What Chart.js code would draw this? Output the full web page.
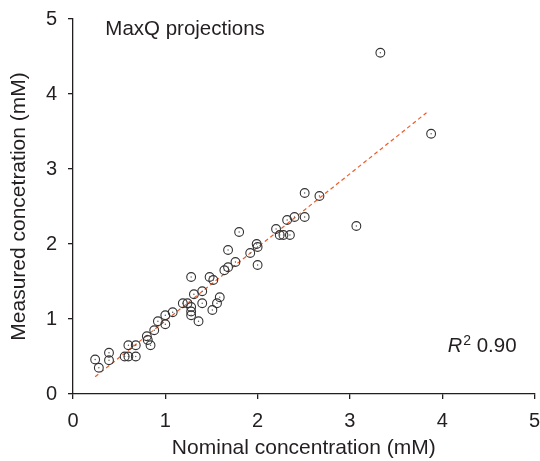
<!DOCTYPE html>
<html>
<head>
<meta charset="utf-8">
<script src="https://cdn.jsdelivr.net/npm/chart.js@4/dist/chart.umd.min.js"></script>
<style>
  html, body { margin: 0; padding: 0; background: #ffffff; }
  #wrap { width: 540px; height: 461px; }
</style>
</head>
<body>
<div id="wrap"><canvas id="c" width="540" height="461"></canvas></div>
<script>
// Nominal (x) and measured (y) concentrations, mM
const nominal = [0.24, 0.28, 0.39, 0.39, 0.56, 0.60, 0.60, 0.68, 0.68, 0.80,
                 0.81, 0.84, 0.88, 0.92, 1.00, 1.00, 1.08, 1.19, 1.24, 1.28,
                 1.28, 1.28, 1.28, 1.31, 1.36, 1.40, 1.40, 1.48, 1.52, 1.51,
                 1.56, 1.59, 1.64, 1.68, 1.68, 1.76, 1.80, 1.92, 1.99, 2.00,
                 2.00, 2.20, 2.24, 2.28, 2.35, 2.32, 2.40, 2.51, 2.51, 2.67,
                 3.07, 3.33, 3.88];
const measured = [0.46, 0.35, 0.55, 0.45, 0.50, 0.65, 0.50, 0.65, 0.50, 0.77,
                  0.72, 0.65, 0.85, 0.97, 0.93, 1.05, 1.09, 1.21, 1.21, 1.56,
                  1.16, 1.10, 1.05, 1.33, 0.97, 1.37, 1.21, 1.56, 1.52, 1.12,
                  1.21, 1.29, 1.65, 1.69, 1.92, 1.76, 2.16, 1.88, 2.00, 1.96,
                  1.72, 2.20, 2.12, 2.12, 2.12, 2.32, 2.36, 2.36, 2.68, 2.64,
                  2.24, 4.55, 3.47];
// Regression line end points
const fitX = [0.24, 3.83];
const fitY = [0.23, 3.75];
// Axis ticks
const xTicks = [0, 1, 2, 3, 4, 5];
const yTicks = [0, 1, 2, 3, 4, 5];
const chartLabel = 'MaxQ projections';
const r2Value = '0.90';
const xTitle = 'Nominal concentration (mM)';
const yTitle = 'Measured concetration (mM)';

const pts = nominal.map((x, i) => ({ x: x, y: measured[i] }));
const fitPts = fitX.map((x, i) => ({ x: x, y: fitY[i] }));

const INK = '#231f20';
const FONT = "'Liberation Sans', Arial, Helvetica, sans-serif";

const annotPlugin = {
  id: 'annot',
  afterDraw(chart) {
    const ctx = chart.ctx;
    const xs = chart.scales.x, ys = chart.scales.y;
    ctx.save();
    ctx.fillStyle = INK;
    ctx.textBaseline = 'alphabetic';
    ctx.textAlign = 'left';
    ctx.font = '20.5px ' + FONT;
    ctx.fillText(chartLabel, xs.getPixelForValue(0.35), ys.getPixelForValue(4.79));
    // R^2 label
    const bx = xs.getPixelForValue(4.06), by = ys.getPixelForValue(0.56);
    ctx.font = 'italic 20px ' + FONT;
    ctx.fillText('R', bx, by);
    const rw = ctx.measureText('R').width;
    ctx.font = '14px ' + FONT;
    ctx.fillText('2', bx + rw + 1, by - 7);
    const sw = ctx.measureText('2').width;
    ctx.font = '20.5px ' + FONT;
    ctx.fillText(' ' + r2Value, bx + rw + sw + 1, by);
    ctx.restore();
  }
};

const axisCommon = {
  type: 'linear',
  min: 0,
  max: 5,
  border: { display: true, color: INK, width: 1.3 },
  grid: { display: true, drawOnChartArea: false, drawTicks: true, tickLength: 5, color: INK, lineWidth: 1.3 },
};

new Chart(document.getElementById('c'), {
  type: 'scatter',
  data: {
    datasets: [
      {
        type: 'line',
        data: fitPts,
        borderColor: '#f05a28',
        borderWidth: 1.2,
        borderDash: [4, 3],
        pointRadius: 0,
        fill: false,
        order: 3
      },
      {
        data: pts,
        pointRadius: 4.4,
        pointBorderWidth: 1.1,
        pointBorderColor: '#333333',
        pointBackgroundColor: 'rgba(0,0,0,0)',
        order: 2
      },
      {
        data: pts,
        pointRadius: 0.7,
        pointBorderWidth: 0,
        pointBackgroundColor: '#555555',
        order: 1
      }
    ]
  },
  options: {
    responsive: false,
    animation: false,
    events: [],
    layout: { padding: { top: 19, right: 4, left: 0, bottom: 0 } },
    plugins: { legend: { display: false }, tooltip: { enabled: false } },
    scales: {
      x: Object.assign({}, axisCommon, {
        position: 'bottom',
        afterBuildTicks: (s) => { s.ticks = xTicks.map(v => ({ value: v })); },
        ticks: { color: INK, font: { family: FONT, size: 20 }, padding: 10, maxRotation: 0 },
        title: { display: true, text: xTitle, color: INK, font: { family: FONT, size: 21 }, padding: { top: 0, bottom: 0 } },
        afterFit: (s) => { s.height = 67; s.paddingRight = 0; s.paddingLeft = 0; }
      }),
      y: Object.assign({}, axisCommon, {
        position: 'left',
        afterBuildTicks: (s) => { s.ticks = yTicks.map(v => ({ value: v })); },
        ticks: { color: INK, font: { family: FONT, size: 20 }, padding: 11 },
        title: { display: true, text: yTitle, color: INK, font: { family: FONT, size: 21 }, padding: { top: 7, bottom: 0 } },
        afterFit: (s) => { s.width = 73; s.paddingTop = 0; s.paddingBottom = 0; }
      })
    }
  },
  plugins: [annotPlugin]
});
</script>
</body>
</html>
